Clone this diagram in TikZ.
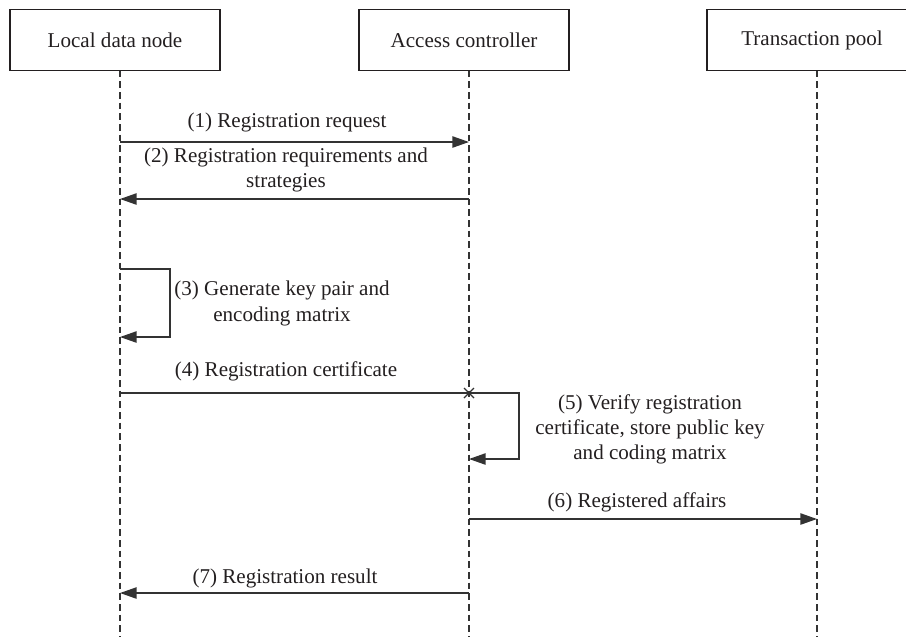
\documentclass[tikz,border=0pt]{standalone}
\usepackage{fontspec}
\setmainfont{Liberation Serif}
\usetikzlibrary{arrows.meta,calc}
\definecolor{ink}{HTML}{231F20}
\definecolor{wire}{HTML}{333333}
\begin{document}
\begin{tikzpicture}[x=0.75pt,y=-0.75pt,
  every node/.style={text=ink, font=\fontsize{15.8}{18.9}\selectfont},
  actor/.style={draw=ink, line width=1.1pt, minimum width=157.5pt,
    minimum height=46pt, inner sep=0pt},
  lifeline/.style={draw=wire, line width=0.8pt, dash pattern=on 5pt off 3pt},
  msg/.style={draw=wire, line width=1.1pt,
    -{Triangle[length=12.5pt,width=8.5pt]}},
  plain/.style={draw=wire, line width=1.1pt},
  lbl/.style={align=center, inner sep=0pt}]

  \useasboundingbox (0,0) rectangle (906,637);

  % participants
  \node[actor] (ldn) at (115,40) {Local data node};
  \node[actor] (ac)  at (464,40) {Access controller};
  \node[actor] (tp)  at (812,40) {Transaction pool};

  % lifelines
  \coordinate (l1t) at (120,70.7);  \coordinate (l1b) at (120,637);
  \coordinate (l2t) at (469,70.7);  \coordinate (l2b) at (469,637);
  \coordinate (l3t) at (817,70.7);  \coordinate (l3b) at (817,637);
  \draw[lifeline] (l1t) -- (l1b);
  \draw[lifeline] (l2t) -- (l2b);
  \draw[lifeline] (l3t) -- (l3b);

  % message anchor points on the lifelines
  \coordinate (a1) at (120,142);  \coordinate (b1) at (469,142);
  \coordinate (a2) at (120,199);  \coordinate (b2) at (469,199);
  \coordinate (a3) at (120,269);  \coordinate (c3) at (120,337);
  \coordinate (a4) at (120,393);  \coordinate (b4) at (469,393);
  \coordinate (c5) at (469,459);
  \coordinate (b6) at (469,519);  \coordinate (d6) at (817,519);
  \coordinate (a7) at (120,593);  \coordinate (b7) at (469,593);

  % (1)
  \draw[msg] (a1) -- (b1);
  \node[lbl] (t1) at (287,122) {(1) Registration request};

  % (2)
  \draw[msg] (b2) -- (a2);
  \node[lbl] (t2) at (286,170) {(2) Registration requirements and\\strategies};

  % (3) self message on the local data node
  \draw[msg] (a3) -- ++(50,0) |- (c3);
  \node[lbl] (t3) at (282,303.5) {(3) Generate key pair and\\encoding matrix};

  % (4) certificate delivered to the access controller
  \draw[plain] (a4) -- (b4);
  \draw[wire, line width=1pt] ($(b4)+(-5,-5)$) -- ($(b4)+(5,5)$)
    ($(b4)+(-5,5)$) -- ($(b4)+(5,-5)$);
  \node[lbl] (t4) at (286,371) {(4) Registration certificate};

  % (5) self message on the access controller
  \draw[msg] (b4) -- ++(50,0) |- (c5);
  \node[lbl] (t5) at (650,429.5)
    {(5) Verify registration\\certificate, store public key\\and coding matrix};

  % (6)
  \draw[msg] (b6) -- (d6);
  \node[lbl] (t6) at (637,502) {(6) Registered affairs};

  % (7)
  \draw[msg] (b7) -- (a7);
  \node[lbl] (t7) at (285,578) {(7) Registration result};
\end{tikzpicture}
\end{document}
